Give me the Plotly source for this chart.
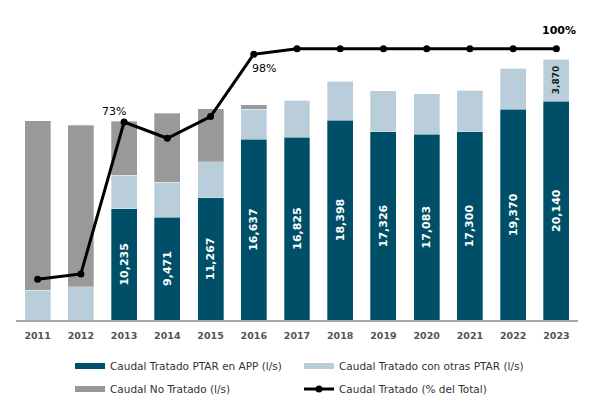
import plotly.graph_objects as go

years = ["2011", "2012", "2013", "2014", "2015", "2016", "2017", "2018", "2019", "2020", "2021", "2022", "2023"]
tratado_app = [0, 0, 10235, 9471, 11267, 16637, 16825, 18398, 17326, 17083, 17300, 19370, 20140]
tratado_otras = [2760, 3070, 3105, 3197, 3297, 2775, 3415, 3590, 3770, 3737, 3860, 3786, 3870]
no_tratado = [15580, 14840, 4940, 6348, 4876, 396, 0, 0, 0, 0, 0, 0, 0]
pct_tratado = [15, 17, 73, 67, 75, 98, 100, 100, 100, 100, 100, 100, 100]
otras_label_years = ["2023"]
pct_label_years = ["2013", "2016", "2023"]

C_DARK = "#004F69"
C_LIGHT = "#B9CDDB"
C_GRAY = "#999999"
FONT = "DejaVu Sans"

app_text = [f"{v:,}" if v else "" for v in tratado_app]
otras_text = [f"{v:,}" if yr in otras_label_years else "" for yr, v in zip(years, tratado_otras)]

fig = go.Figure()
edge = dict(color="rgba(255,255,255,0.5)", width=0.6)
fig.add_trace(go.Bar(x=years, y=tratado_app, marker=dict(color=C_DARK, line=edge), text=app_text,
                     textposition="inside", insidetextanchor="middle", textangle=-90,
                     textfont=dict(family=FONT, size=11, color="white", weight="bold"),
                     showlegend=False, name="Caudal Tratado PTAR en APP (l/s)"))
fig.add_trace(go.Bar(x=years, y=tratado_otras, marker=dict(color=C_LIGHT, line=edge), text=otras_text,
                     textposition="inside", insidetextanchor="middle", textangle=-90,
                     textfont=dict(family=FONT, size=9, color="#1a1a1a", weight="bold"),
                     showlegend=False, name="Caudal Tratado con otras PTAR (l/s)"))
fig.add_trace(go.Bar(x=years, y=no_tratado, marker=dict(color=C_GRAY, line=edge),
                     showlegend=False, name="Caudal No Tratado (l/s)"))
fig.add_trace(go.Scatter(x=years, y=pct_tratado, yaxis="y2", mode="lines+markers",
                         line=dict(color="black", width=3), marker=dict(color="black", size=7),
                         name="Caudal Tratado (% del Total)", legend="legend2", legendrank=2))

# legend proxies (wide rectangular swatches), nothing drawn in the plot
fig.add_trace(go.Scatter(x=years, y=[None] * len(years), mode="lines", line=dict(color=C_DARK, width=6),
                         name="Caudal Tratado PTAR en APP (l/s)", legend="legend", legendrank=1))
fig.add_trace(go.Scatter(x=years, y=[None] * len(years), mode="lines", line=dict(color=C_LIGHT, width=6),
                         name="Caudal Tratado con otras PTAR (l/s)", legend="legend", legendrank=2))
fig.add_trace(go.Scatter(x=years, y=[None] * len(years), mode="lines", line=dict(color=C_GRAY, width=6),
                         name="Caudal No Tratado (l/s)", legend="legend2", legendrank=1))

shifts = {"2013": (-10, 10, False), "2016": (10, -14, False), "2023": (3, 18, True)}
for i, (yr, p) in enumerate(zip(years, pct_tratado)):
    if yr in pct_label_years:
        dx, dy, bold = shifts[yr]
        fig.add_annotation(x=i, y=p, xref="x", yref="y2", text=f"{p}%", showarrow=False,
                           xshift=dx, yshift=dy,
                           font=dict(family=FONT, size=11, color="black", weight="bold" if bold else "normal"))

leg_common = dict(orientation="h", xanchor="left", yanchor="middle", entrywidth=184, entrywidthmode="pixels",
                  font=dict(family=FONT, size=10.5, color="#333333"), bgcolor="rgba(0,0,0,0)",
                  traceorder="normal")

fig.update_layout(
    width=598, height=412,
    margin=dict(l=16, r=20, t=20, b=92, autoexpand=False),
    paper_bgcolor="white", plot_bgcolor="white",
    barmode="stack", bargap=0.4,
    xaxis=dict(type="category", range=[-0.5, len(years) - 0.5], showline=True, linecolor="#a6a6a6",
               linewidth=1.5, ticks="", ticklabelstandoff=6,
               tickfont=dict(family=FONT, size=9.5, color="#5a524c", weight="bold"),
               showgrid=False),
    yaxis=dict(range=[0, 27600], visible=False, showgrid=False),
    yaxis2=dict(range=[0, 110.6], overlaying="y", side="right", visible=False, showgrid=False),
    legend=dict(x=0.0961, y=-0.153, **leg_common),
    legend2=dict(x=0.0961, y=-0.23, **leg_common),
    showlegend=True,
)

fig.write_html("out.html")
